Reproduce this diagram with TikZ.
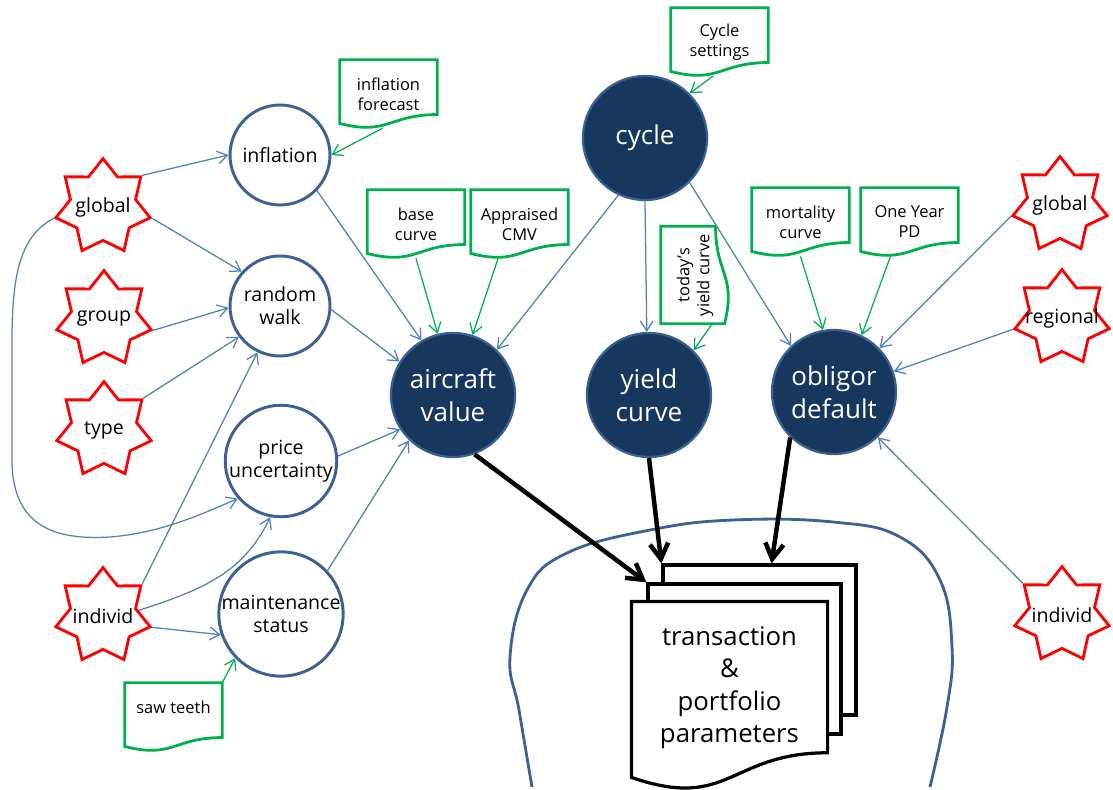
\documentclass[tikz,border=0pt]{standalone}
\usepackage{fontspec}
\setmainfont{Open Sans}
\usetikzlibrary{arrows.meta,positioning,shapes.geometric,calc}

\definecolor{navy}{HTML}{17375E}
\definecolor{navyedge}{HTML}{3D5F8F}
\definecolor{ringblue}{HTML}{3D6194}
\definecolor{linkblue}{HTML}{4F81BD}
\definecolor{notegreen}{HTML}{00B050}
\definecolor{bodyblue}{HTML}{3D6194}

% outline of a sheet with a wavy lower edge
\newcommand{\docoutline}[1]{(#1.north west) -- (#1.north east) -- ($(#1.north east)!0.8!(#1.south east)$) .. controls ($(#1.north)!0.8!(#1.south)$) and ($(#1.north)!1.11!(#1.south)$) .. ($(#1.north west)!0.93!(#1.south west)$) -- cycle}

\begin{document}
\begin{tikzpicture}[x=2.5cm, y=2.5cm, >={Straight Barb[length=7pt,width=9pt]},
factor/.style={star, star points=7, star point ratio=1.45, draw=red, line width=2pt, fill=white, minimum size=2.42cm, inner sep=0pt, font=\fontsize{13.9}{16.4}\selectfont},
process/.style={circle, draw=ringblue, line width=2.1pt, fill=white, minimum size=2.5cm, inner sep=0pt, align=center, font=\fontsize{13.9}{16.4}\selectfont},
latent/.style={circle, draw=navyedge, fill=navy, line width=1.6pt, minimum size=3.1cm, inner sep=0pt, align=center, text=white, font=\fontsize{18.5}{23.5}\selectfont},
note/.style={rectangle, minimum width=2.425cm, minimum height=1.7cm, inner sep=0pt, align=center, font=\fontsize{11.7}{14.2}\selectfont},
page/.style={rectangle, draw, fill=white, line width=2.3pt, minimum width=4.825cm, minimum height=3.75cm},
link/.style={color=linkblue, line width=0.9pt},
feed/.style={color=notegreen, line width=0.9pt},
heavy/.style={color=black, line width=3.2pt, >={Straight Barb[length=11pt,width=13pt]}}]
    \useasboundingbox (0,0) rectangle (11.13,-7.90);
    \draw[bodyblue, line width=2pt] plot[smooth, tension=0.7] coordinates {(5.32,-7.87) (5.19,-7.10) (5.10,-6.57) (5.27,-5.90) (5.67,-5.53) (6.50,-5.30) (7.33,-5.20) (8.33,-5.22) (9.00,-5.37) (9.40,-5.80) (9.52,-6.47) (9.47,-7.07) (9.30,-7.87)};

    \node[factor] (G_L) at (1.03, -2.07) {\makebox[0pt]{global}};
    \node[factor] (GRP) at (1.04, -3.19) {\makebox[0pt]{group}};
    \node[factor] (TYP) at (1.04, -4.30) {\makebox[0pt]{type}};
    \node[factor] (IND_L) at (1.03, -6.16) {\makebox[0pt]{individ}};
    \node[factor] (G_R) at (10.60, -2.05) {\makebox[0pt]{global}};
    \node[factor] (REG) at (10.62, -3.18) {\makebox[0pt]{regional}};
    \node[factor] (IND_R) at (10.62, -6.15) {\makebox[0pt]{individ}};

    \node[process] (INFL) at (2.80, -1.55) {inflation};
    \node[process] (RW) at (2.80, -3.06) {random\\walk};
    \node[process] (PU) at (2.81, -4.61) {price\\uncertainty};
    \node[process] (MS) at (2.81, -6.14) {maintenance\\status};

    \node[latent] (CYC) at (6.45, -1.38) {cycle};
    \node[latent] (AV) at (4.53, -3.95) {aircraft\\value};
    \node[latent] (YC) at (6.49, -3.95) {yield\\curve};
    \node[latent] (OD) at (8.34, -3.92) {obligor\\default};

    \node[note] (N_INFL) at (3.885, -0.94) {inflation\\forecast};
    \node[note] (N_CYC) at (7.195, -0.42) {Cycle\\settings};
    \node[note] (N_BASE) at (4.16, -2.24) {base\\curve};
    \node[note] (N_CMV) at (5.195, -2.24) {Appraised\\CMV};
    \node[note] (N_MORT) at (8.005, -2.22) {mortality\\curve};
    \node[note] (N_PD) at (9.095, -2.22) {One Year\\PD};
    \node[note] (N_SAW) at (1.735, -7.17) {saw teeth\\~};
    \node[note, rotate=90] (N_YC) at (6.95, -2.75) {today's\\yield curve};
    \foreach \n in {N_INFL,N_CYC,N_BASE,N_CMV,N_MORT,N_PD,N_SAW,N_YC}
        \draw[notegreen, line width=2pt] \docoutline{\n};

    \node[page] (PAGE3) at (7.595, -6.40) {};
    \node[page] (PAGE2) at (7.445, -6.59) {};
    \node[page, draw=none, minimum height=4.65cm, align=center, text depth=16pt, font=\fontsize{18.3}{23.1}\selectfont] (PAGE1) at (7.295, -6.96) {transaction\\\&\\portfolio\\parameters};
    \draw[line width=2.3pt] \docoutline{PAGE1};

    \path[->, link]
        (G_L.39) edge (INFL.180)
        (G_L.347) edge (RW.138)
        (GRP.347) edge (RW.182)
        (TYP.39) edge (RW.217)
        (IND_L.39) edge (RW.244)
        (IND_L.9) edge[out=18, in=245] (PU.259)
        (IND_L.347) edge (MS.199)
        (INFL.316) edge (AV.120)
        (RW.356) edge (AV.148)
        (PU.5) edge (AV.213)
        (MS.43) edge (AV.226)
        (CYC.245) edge (AV.46)
        (CYC.270) edge (YC.92)
        (CYC.315) edge (OD.133)
        (G_R.193) edge (OD.44)
        (REG.193) edge (OD.19)
        (IND_R.141) edge (OD.314);
    \draw[->, link] (G_L.193) .. controls (0.22,-2.35) and (0.12,-2.70) .. (0.12,-3.40) -- (0.12,-4.60) .. controls (0.12,-5.30) and (0.60,-5.40) .. (1.10,-5.37) .. controls (1.60,-5.33) and (2.00,-5.15) .. (PU.221);

    \path[->, feed]
        (N_INFL.260) edge (INFL.0)
        (N_BASE.south) edge (AV.104)
        (N_CMV.238) edge (AV.72)
        (N_CYC.259) edge (CYC.45)
        ($(N_YC.west)!0.5!(N_YC.south west)$) edge (YC.45)
        (N_MORT.south) edge (OD.100)
        (N_PD.241) edge (OD.64)
        (N_SAW.north east) edge (MS.224);

    \path[->, heavy]
        (AV.290) edge (PAGE2.north west)
        (YC.270) edge (PAGE3.north west)
        (OD.226) edge ($(PAGE3.north)+(0.12,0)$);
\end{tikzpicture}
\end{document}
